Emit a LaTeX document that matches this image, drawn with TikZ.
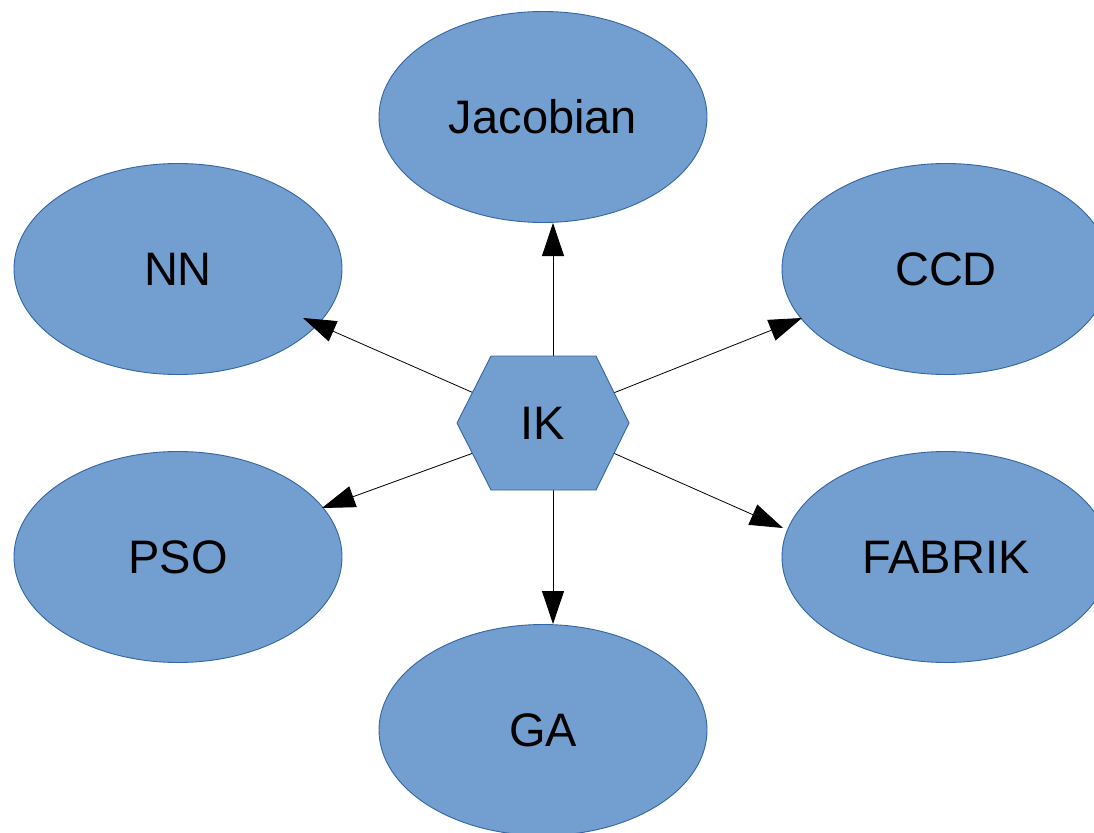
\documentclass[tikz,border=0pt]{standalone}
\usepackage{fontspec}
\setmainfont{Liberation Sans}
\usetikzlibrary{shapes.geometric,arrows.meta}
\definecolor{fillblue}{HTML}{729FCF}
\definecolor{edgeblue}{HTML}{3465A4}
\begin{document}
\begin{tikzpicture}[x=1pt,y=-1pt,
  oval/.style={ellipse, draw=edgeblue, fill=fillblue, line width=0.9pt,
    minimum width=328pt, minimum height=211pt, inner sep=0pt,
    font=\fontsize{47}{56}\selectfont},
  arr/.style={draw=black, line width=0.8pt, -{Triangle[length=33pt,width=22pt]}}]
\useasboundingbox (0,0) rectangle (1094,832);
\clip (0,0) rectangle (1094,832);
% ellipses
\node[oval] (jac) at (543,117) {Jacobian};
\node[oval] (nn)  at (178,269) {NN};
\node[oval] (ccd) at (946,269) {CCD};
\node[oval] (pso) at (178,557) {PSO};
\node[oval] (fab) at (946,557) {FABRIK};
\node[oval] (ga)  at (543,730) {GA};
% hexagon corners
\coordinate (h1) at (457,423);
\coordinate (h2) at (491,356);
\coordinate (h3) at (596,356);
\coordinate (h4) at (629,423);
\coordinate (h5) at (596,490);
\coordinate (h6) at (491,490);
% connector start points (under the hexagon)
\coordinate (s1) at (553,356);
\coordinate (s2) at (476,394);
\coordinate (s3) at (611,394);
\coordinate (s4) at (476,452);
\coordinate (s5) at (611,452);
\coordinate (s6) at (553,490);
% connector tips (relative to the ellipses)
\coordinate (t1) at ([shift={(10,106)}]jac.center);
\coordinate (t2) at ([shift={(125,49)}]nn.center);
\coordinate (t3) at ([shift={(-144,49)}]ccd.center);
\coordinate (t4) at ([shift={(144,-49)}]pso.center);
\coordinate (t5) at ([shift={(-163,-29)}]fab.center);
\coordinate (t6) at ([shift={(10,-106)}]ga.center);
\draw[arr] (s1) -- (t1);
\draw[arr] (s2) -- (t2);
\draw[arr] (s3) -- (t3);
\draw[arr] (s4) -- (t4);
\draw[arr] (s5) -- (t5);
\draw[arr] (s6) -- (t6);
% hexagon
\fill[fillblue] (h1) -- (h2) -- (h3) -- (h4) -- (h5) -- (h6) -- cycle;
\draw[edgeblue, line width=0.9pt, line join=miter] (h1) -- (h2) -- (h3) -- (h4) -- (h5) -- (h6) -- cycle;
\node[font=\fontsize{47}{56}\selectfont, inner sep=0pt] (ik) at (543,423) {IK};
\end{tikzpicture}
\end{document}
